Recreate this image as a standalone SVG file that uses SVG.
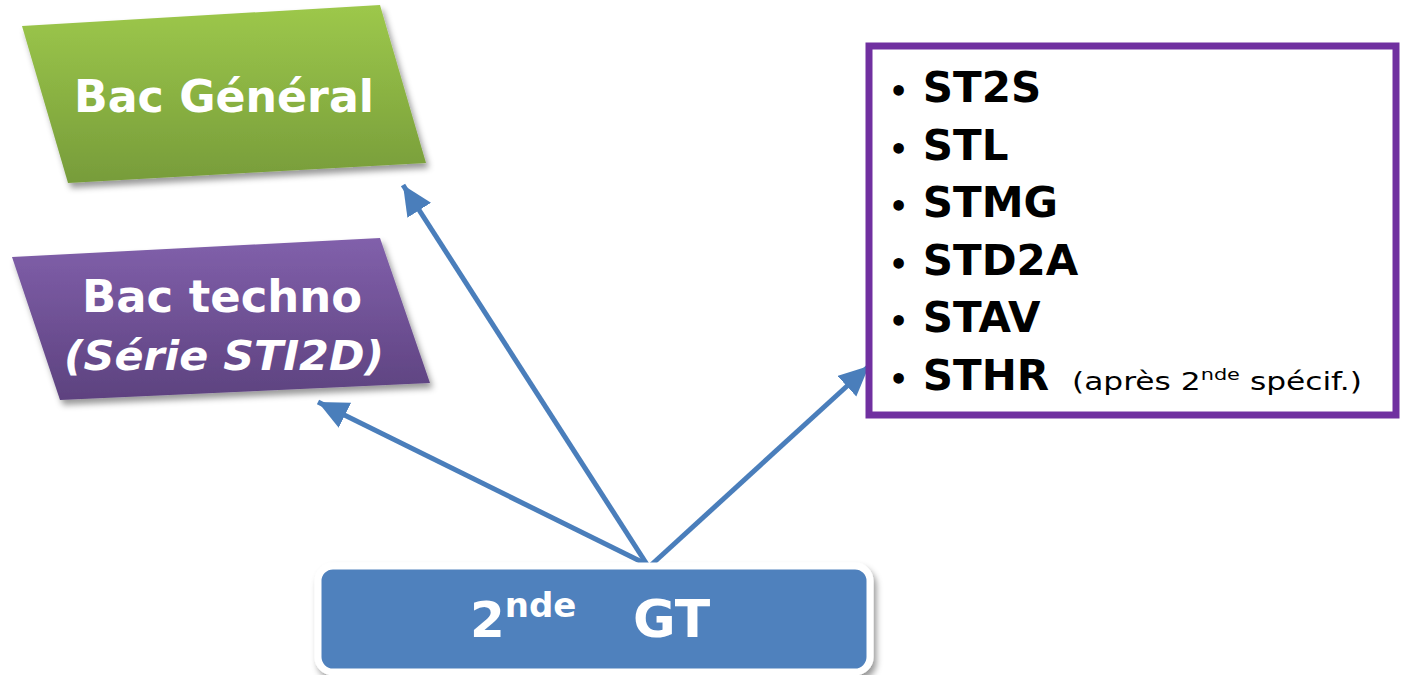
<svg xmlns="http://www.w3.org/2000/svg" width="1401" height="675" viewBox="0 0 1401 675">
<defs>
<linearGradient id="gGreen" x1="0" y1="0" x2="0" y2="1"><stop offset="0" stop-color="#9dc84b"/><stop offset="1" stop-color="#779c3a"/></linearGradient>
<linearGradient id="gPurple" x1="0" y1="0" x2="0" y2="1"><stop offset="0" stop-color="#8160ab"/><stop offset="1" stop-color="#5d427f"/></linearGradient>
<filter id="sh" x="-10%" y="-10%" width="125%" height="130%"><feDropShadow dx="3" dy="5" stdDeviation="3" flood-color="#000" flood-opacity="0.4"/></filter>
<marker id="ah" markerUnits="userSpaceOnUse" markerWidth="34" markerHeight="30" refX="30" refY="14" orient="auto"><path d="M0,0 L30,14 L0,28 Z" fill="#4a7ebb"/></marker>
<style>
.w{fill:#fff;font-family:"Comic Sans MS","DejaVu Sans",sans-serif;font-weight:bold}
.k{fill:#000;font-family:"Comic Sans MS","DejaVu Sans",sans-serif;font-weight:bold;font-size:42px}
.s{fill:#000;font-family:"Comic Sans MS","DejaVu Sans",sans-serif;font-size:24px}
.c{stroke:#4a7ebb;stroke-width:5;fill:none;marker-end:url(#ah)}
</style>
</defs>
<rect width="1401" height="675" fill="#fff"/>
<g id="connectors">
<line class="c" x1="648" y1="566" x2="403" y2="185"/>
<line class="c" x1="646" y1="564" x2="318" y2="402"/>
<line class="c" x1="650" y1="566" x2="869" y2="366"/>
</g>
<g id="bac-general">
<path d="M22,26 L380,5 L426,163 L68,183 Z" fill="url(#gGreen)" filter="url(#sh)"/>
<text class="w" x="224" y="112" font-size="44" text-anchor="middle" textLength="300" lengthAdjust="spacingAndGlyphs">Bac Général</text>
</g>
<g id="bac-techno">
<path d="M12,257 L380,238 L430,383 L60,400 Z" fill="url(#gPurple)" filter="url(#sh)"/>
<text class="w" x="222" y="312" font-size="44" text-anchor="middle" textLength="280" lengthAdjust="spacingAndGlyphs">Bac techno</text>
<text class="w" x="224" y="370" font-size="40" font-style="italic" text-anchor="middle" textLength="320" lengthAdjust="spacingAndGlyphs">(Série STI2D)</text>
</g>
<g id="seconde-gt">
<rect x="318" y="566" width="552" height="106" rx="15" fill="#4f81bd" stroke="#fff" stroke-width="7" filter="url(#sh)"/>
<text class="w" x="470" y="637" font-size="50">2<tspan font-size="34" dy="-20">nde</tspan><tspan font-size="52" dy="20" x="633">GT</tspan></text>
</g>
<g id="series-list">
<rect x="869" y="46" width="527" height="369" fill="#fff" stroke="#7030a0" stroke-width="7"/>
<g class="k">
<text x="889" y="102"><tspan font-size="30">•</tspan> ST2S</text>
<text x="889" y="160"><tspan font-size="30">•</tspan>  STL</text>
<text x="889" y="217"><tspan font-size="30">•</tspan>  STMG</text>
<text x="889" y="275"><tspan font-size="30">•</tspan>  STD2A</text>
<text x="889" y="332"><tspan font-size="30">•</tspan>  STAV</text>
<text x="889" y="390"><tspan font-size="30">•</tspan>  STHR</text>
</g>
<text class="s" x="1072" y="390" textLength="290" lengthAdjust="spacingAndGlyphs">(après 2<tspan font-size="16" dy="-10">nde</tspan><tspan dy="10"> spécif.)</tspan></text>
</g>
</svg>
